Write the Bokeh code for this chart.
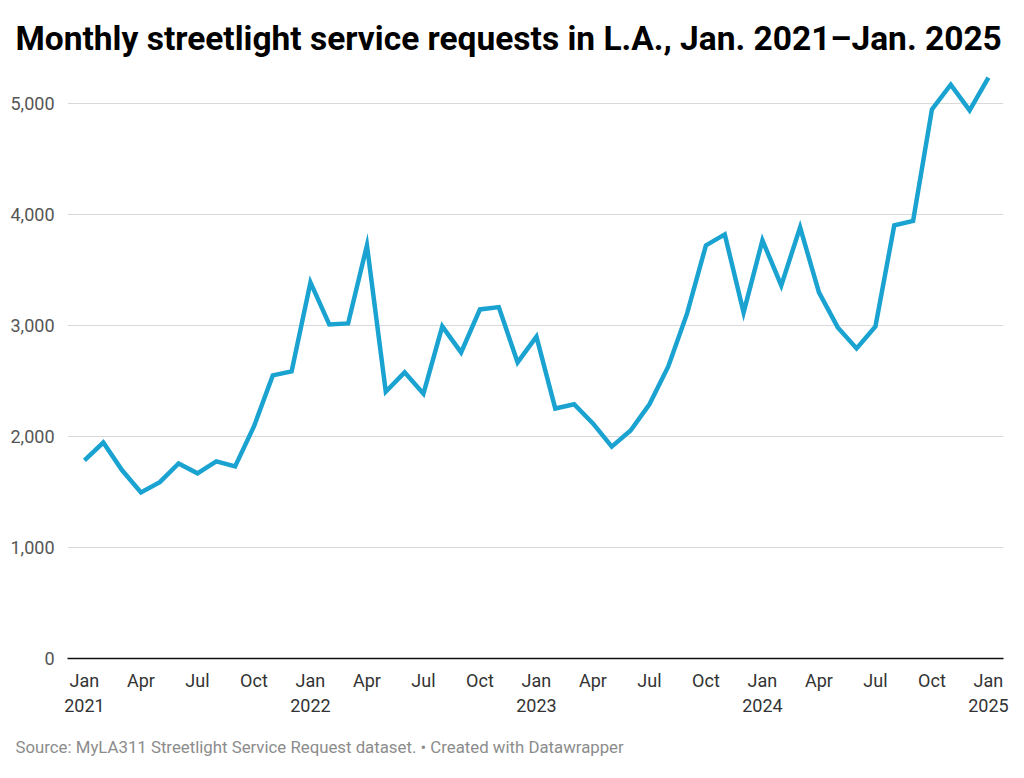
from bokeh.plotting import figure
from bokeh.models import Title, FixedTicker, ColumnDataSource
from bokeh.embed import file_html
from bokeh.resources import INLINE

months = [
    "2021-01", "2021-02", "2021-03", "2021-04", "2021-05", "2021-06",
    "2021-07", "2021-08", "2021-09", "2021-10", "2021-11", "2021-12",
    "2022-01", "2022-02", "2022-03", "2022-04", "2022-05", "2022-06",
    "2022-07", "2022-08", "2022-09", "2022-10", "2022-11", "2022-12",
    "2023-01", "2023-02", "2023-03", "2023-04", "2023-05", "2023-06",
    "2023-07", "2023-08", "2023-09", "2023-10", "2023-11", "2023-12",
    "2024-01", "2024-02", "2024-03", "2024-04", "2024-05", "2024-06",
    "2024-07", "2024-08", "2024-09", "2024-10", "2024-11", "2024-12",
    "2025-01",
]
requests = [
    1785, 1945, 1695, 1495, 1588, 1757, 1668, 1775, 1730, 2090, 2550, 2586,
    3387, 3008, 3018, 3721, 2403, 2577, 2385, 2991, 2757, 3144, 3165, 2667,
    2898, 2252, 2290, 2117, 1908, 2054, 2290, 2631, 3108, 3721, 3820, 3117,
    3766, 3360, 3883, 3297, 2982, 2793, 2991, 3901, 3942, 4946, 5168, 4937,
    5232,
]
y_ticks = [0, 1000, 2000, 3000, 4000, 5000]
month_names = {"01": "Jan", "04": "Apr", "07": "Jul", "10": "Oct"}

idx = list(range(len(months)))
src = ColumnDataSource(dict(x=idx, y=requests))

p = figure(width=1024, height=778, output_backend="svg", toolbar_location=None,
           x_range=(-0.9, 48.8), y_range=(0, 5350),
           min_border_left=67, min_border_right=21, min_border_top=64,
           min_border_bottom=120, background_fill_color="white",
           border_fill_color="white", outline_line_color=None)

p.line("x", "y", source=src, line_color="#1aa3d1", line_width=4.5,
       line_join="miter")

# x axis
tick_pos = [i for i, m in enumerate(months) if m[5:] in month_names]
overrides = {}
for i in tick_pos:
    yr, mo = months[i].split("-")
    lab = month_names[mo]
    if mo == "01":
        lab = lab + "\n" + yr
    overrides[i] = lab
p.xaxis.ticker = FixedTicker(ticks=tick_pos)
p.xaxis.major_label_overrides = overrides
p.xaxis.axis_line_color = "#111111"
p.xaxis.axis_line_width = 1.5
p.xaxis.major_tick_line_color = None
p.xaxis.minor_tick_line_color = None
p.xaxis.major_label_text_font = "Roboto"
p.xaxis.major_label_text_font_size = "18px"
p.xaxis.major_label_text_color = "#333333"
p.xaxis.major_label_standoff = 5

# y axis
p.yaxis.ticker = FixedTicker(ticks=y_ticks)
p.yaxis.major_label_overrides = {v: f"{v:,}" for v in y_ticks}
p.yaxis.axis_line_color = None
p.yaxis.major_tick_line_color = None
p.yaxis.minor_tick_line_color = None
p.yaxis.major_label_text_font = "Roboto"
p.yaxis.major_label_text_font_size = "18px"
p.yaxis.major_label_text_color = "#555555"
p.yaxis.major_label_standoff = 7

p.xgrid.grid_line_color = None
p.ygrid.ticker = FixedTicker(ticks=y_ticks[1:])
p.ygrid.grid_line_color = "#d9d9d9"
p.ygrid.grid_line_width = 1

title = Title(text="Monthly streetlight service requests in L.A., Jan. 2021\u2013Jan. 2025",
              text_font="Roboto", text_font_style="bold", text_font_size="33.5px",
              text_color="#000000", align="left", offset=-52, standoff=14)
p.add_layout(title, "above")

source = Title(text="Source: MyLA311 Streetlight Service Request dataset. \u2022 Created with Datawrapper",
               text_font="Roboto", text_font_style="normal", text_font_size="16.8px",
               text_color="#8c8c8c", align="left", offset=-52, standoff=33)
p.add_layout(source, "below")

open("out.html", "w").write(file_html(p, INLINE))
